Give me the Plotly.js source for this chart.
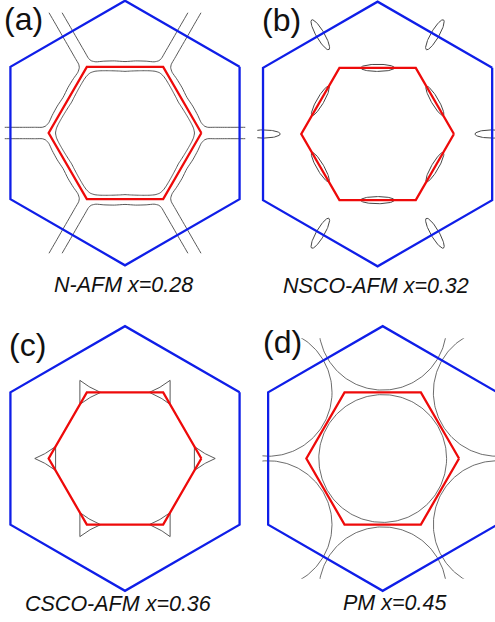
<!DOCTYPE html>
<html><head><meta charset="utf-8">
<script src="https://cdn.plot.ly/plotly-3.0.1.min.js"></script>
<style>html,body{margin:0;padding:0;background:#fff;}#chart{width:495px;height:622px;}</style>
</head><body><div id="chart"></div>
<script>
// ---------------- data (k-space units: blue zone circumradius = 1) ----------------
const panelLabels = ['(a)', '(b)', '(c)', '(d)'];
const panelTitles = ['N-AFM x=0.28', 'NSCO-AFM x=0.32', 'CSCO-AFM x=0.36', 'PM x=0.45'];
const blueZoneRadius = 1.0;      // pointy-top hexagon
const redZoneRadius = 0.577;     // flat-top hexagon (reconstructed zone)
const fermiBox = 0.909;          // Fermi contours are shown inside |kx|,|ky| < fermiBox

// (a) inner sheet: polar samples, 0..30 deg (rest follows by hexagonal symmetry)
const innerA_deg = [0, 4, 8, 12, 16, 20, 25, 30];
const innerA_r   = [0.525, 0.519, 0.507, 0.495, 0.485, 0.477, 0.470, 0.466];
// (a) outer sheet: right half of the branch along the top edge, bending out along 60 deg
const outerA_u = [0, 0.08, 0.16, 0.22, 0.255, 0.275, 0.30, 0.35, 0.40, 0.45, 0.50, 0.55];
const outerA_v = [0.540, 0.545, 0.543, 0.538, 0.546, 0.563, 0.606, 0.692, 0.779, 0.865, 0.952, 1.039];

// (b) elliptic pockets: [on red edges, on blue edges]
const ellB_centerR   = [0.5, 0.866];
const ellB_firstDeg  = [30, 0];
const ellB_semiMajor = [0.128, 0.13];
const ellB_semiMinor = [0.027, 0.031];
const ellB_alongRadial = [false, true];

// (c) triangular pockets at the red-zone corners
const pocketC_size = 0.105;          // corner distance from zone corner
const pocketC_midConcave = 0.046;    // distance of slanted side mid-point from pocket centre
const pocketC_midStraight = 0.052;   // vertical sides

// (d) paramagnetic circles at Gamma and the six reconstructed-zone G vectors
const circleD_radius = 0.483;
const circleD_centerR = [0, 1, 1, 1, 1, 1, 1];
const circleD_centerDeg = [0, 30, 90, 150, 210, 270, 330];

// ---------------- page geometry ----------------
const W = 495, H = 622;
const panelCenterX = [125, 377.6, 125, 382.7];
const panelCenterY = [133, 134, 458.5, 458.5];
const pxPerUnit = 132.3;

const fermiColor = 'rgb(70,70,70)';
const blueColor = 'rgb(15,30,232)';
const redColor = 'rgb(238,10,10)';

function rot(u, v, deg) {
  const t = deg * Math.PI / 180, c = Math.cos(t), s = Math.sin(t);
  return [u * c - v * s, u * s + v * c];
}

function hexagon(R, startDeg) {
  const x = [], y = [];
  for (let k = 0; k <= 6; k++) {
    const t = (startDeg + 60 * k) * Math.PI / 180;
    x.push(R * Math.cos(t)); y.push(R * Math.sin(t));
  }
  return {x, y};
}

function ellipse(cx, cy, a, b, dirDeg) {
  const x = [], y = [];
  for (let i = 0; i <= 96; i++) {
    const t = 2 * Math.PI * i / 96;
    const p = rot(a * Math.cos(t), b * Math.sin(t), dirDeg);
    x.push(cx + p[0]); y.push(cy + p[1]);
  }
  return {x, y};
}

function circle(cx, cy, r) {
  const x = [], y = [];
  for (let i = 0; i <= 240; i++) {
    const t = 2 * Math.PI * i / 240;
    x.push(cx + r * Math.cos(t)); y.push(cy + r * Math.sin(t));
  }
  return {x, y};
}

const traces = [];
const layout = {
  width: W, height: H, margin: {l: 0, r: 0, t: 0, b: 0},
  paper_bgcolor: '#ffffff', plot_bgcolor: 'rgba(0,0,0,0)',
  showlegend: false, annotations: []
};

function addAxes(n, x0, x1, y0, y1, cx, cy) {
  x0 = Math.max(0, x0); x1 = Math.min(W, x1); y0 = Math.max(0, y0); y1 = Math.min(H, y1);
  const S = pxPerUnit;
  const sfx = n === 1 ? '' : String(n);
  layout['xaxis' + sfx] = {domain: [x0 / W, x1 / W], range: [(x0 - cx) / S, (x1 - cx) / S],
    visible: false, fixedrange: true, anchor: 'y' + sfx, showgrid: false, zeroline: false};
  layout['yaxis' + sfx] = {domain: [1 - y1 / H, 1 - y0 / H], range: [(cy - y1) / S, (cy - y0) / S],
    visible: false, fixedrange: true, anchor: 'x' + sfx, showgrid: false, zeroline: false};
  return ['x' + sfx, 'y' + sfx];
}

function line(ax, x, y, color, width, shape, smoothing) {
  traces.push({type: 'scatter', mode: 'lines', x, y, xaxis: ax[0], yaxis: ax[1],
    line: {color, width, shape: shape || 'linear', smoothing: smoothing || 0.5}, hoverinfo: 'skip', connectgaps: false});
}

const fermiAxes = [], fullAxes = [];
for (let p = 0; p < 4; p++) {
  const cx = panelCenterX[p], cy = panelCenterY[p], S = pxPerUnit;
  fermiAxes.push(addAxes(2 * p + 1, cx - fermiBox * S, cx + fermiBox * S, cy - fermiBox * S, cy + fermiBox * S, cx, cy));
  fullAxes.push(addAxes(2 * p + 2, cx - 1.08 * S, cx + 1.08 * S, cy - 1.06 * S, cy + 1.06 * S, cx, cy));
}

// ---- (a) ----
{
  const ax = fermiAxes[0];
  const pts = [];
  for (let k = 0; k < 6; k++) {
    innerA_deg.forEach((d, i) => pts.push([60 * k + d, innerA_r[i]]));
    for (let i = innerA_deg.length - 2; i >= 1; i--) pts.push([60 * k + 60 - innerA_deg[i], innerA_r[i]]);
  }
  pts.push(pts[0]);
  const x = pts.map(([d, r]) => r * Math.cos(d * Math.PI / 180));
  const y = pts.map(([d, r]) => r * Math.sin(d * Math.PI / 180));
  line(ax, x, y, fermiColor, 0.9, 'spline', 0.6);
  // outer branches
  const hu = outerA_u.slice(1).reverse().map(u => -u).concat(outerA_u);
  const hv = outerA_v.slice(1).reverse().concat(outerA_v);
  for (let k = 0; k < 6; k++) {
    const ox = [], oy = [];
    hu.forEach((u, i) => { const q = rot(u, hv[i], 60 * k); ox.push(q[0]); oy.push(q[1]); });
    line(ax, ox, oy, fermiColor, 0.9, 'spline', 0.6);
  }
}

// ---- (b) ----
{
  const ax = fermiAxes[1];
  for (let s = 0; s < ellB_centerR.length; s++) {
    for (let k = 0; k < 6; k++) {
      const th = ellB_firstDeg[s] + 60 * k;
      const c = rot(ellB_centerR[s], 0, th);
      const dir = ellB_alongRadial[s] ? th : th + 90;
      const e = ellipse(c[0], c[1], ellB_semiMajor[s], ellB_semiMinor[s], dir);
      line(ax, e.x, e.y, fermiColor, 1.0);
    }
  }
}

// ---- (c) ----
{
  const ax = fermiAxes[2];
  for (let k = 0; k < 6; k++) {
    const th = 60 * k;
    const P = rot(redZoneRadius, 0, th);
    const corners = [0, 1, 2].map(j => { const q = rot(pocketC_size, 0, th + 120 * j); return [P[0] + q[0], P[1] + q[1]]; });
    const x = [], y = [];
    for (let j = 0; j < 3; j++) {
      const A = corners[j], B = corners[(j + 1) % 3];
      const midDir = th + 120 * j + 60;
      const vertical = Math.abs(Math.cos(midDir * Math.PI / 180)) > 0.99;
      const m = vertical ? pocketC_midStraight : pocketC_midConcave;
      const cm = rot(m, 0, midDir);
      const curveMid = [P[0] + cm[0], P[1] + cm[1]];
      const M = [(A[0] + B[0]) / 2, (A[1] + B[1]) / 2];
      const C = [2 * curveMid[0] - M[0], 2 * curveMid[1] - M[1]];
      for (let i = 0; i <= 20; i++) {
        const t = i / 20, a = (1 - t) * (1 - t), b = 2 * t * (1 - t), c = t * t;
        x.push(a * A[0] + b * C[0] + c * B[0]); y.push(a * A[1] + b * C[1] + c * B[1]);
      }
    }
    line(ax, x, y, fermiColor, 0.9);
  }
}

// ---- (d) ----
{
  const ax = fermiAxes[3];
  circleD_centerR.forEach((r, i) => {
    const c = rot(r, 0, circleD_centerDeg[i]);
    const e = circle(c[0], c[1], circleD_radius);
    line(ax, e.x, e.y, fermiColor, 0.8);
  });
}

// ---- zone boundaries ----
for (let p = 0; p < 4; p++) {
  const hb = hexagon(blueZoneRadius, 30);
  line(fullAxes[p], hb.x, hb.y, blueColor, 2.3);
  const hr = hexagon(redZoneRadius, 0);
  line(fullAxes[p], hr.x, hr.y, redColor, 2.3);
}

// ---- text ----
const labelPos = [[3, 0], [261, 1], [8, 326], [262, 323]];   // top-left of label box
const titlePos = [[123, 285], [376, 286], [117.5, 604], [395, 602.5]];
for (let p = 0; p < 4; p++) {
  layout.annotations.push({text: panelLabels[p], xref: 'paper', yref: 'paper',
    x: labelPos[p][0] / W, y: 1 - labelPos[p][1] / H, xanchor: 'left', yanchor: 'top', showarrow: false,
    borderpad: 0, font: {family: 'Liberation Sans, Arial, sans-serif', size: 32, color: '#111'}});
  layout.annotations.push({text: panelTitles[p], xref: 'paper', yref: 'paper',
    x: titlePos[p][0] / W, y: 1 - titlePos[p][1] / H, xanchor: 'center', yanchor: 'middle', showarrow: false,
    font: {family: 'Liberation Sans, Arial, sans-serif', size: 21.5, color: '#111', style: 'italic'}});
}

Plotly.newPlot('chart', traces, layout, {staticPlot: true, displayModeBar: false});
</script></body></html>
